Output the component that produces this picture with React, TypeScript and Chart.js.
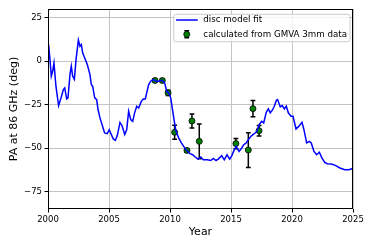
import React, { useEffect, useRef } from "react";
import { Chart, registerables } from "chart.js";

Chart.register(...registerables);

const lineYears = [
  2000.05, 2000.16, 2000.27, 2000.38, 2000.49, 2000.65, 2000.87, 2001.07, 2001.26, 2001.37,
  2001.53, 2001.64, 2001.8, 2001.91, 2002.02, 2002.16, 2002.3, 2002.49, 2002.62, 2002.73,
  2002.84, 2003.0, 2003.22, 2003.44, 2003.55, 2003.66, 2003.83, 2003.99, 2004.1, 2004.26,
  2004.43, 2004.64, 2004.86, 2005.02, 2005.19, 2005.35, 2005.52, 2005.68, 2005.9, 2006.07,
  2006.29, 2006.45, 2006.61, 2006.78, 2006.94, 2007.1, 2007.27, 2007.43, 2007.65, 2007.81,
  2007.98, 2008.09, 2008.25, 2008.42, 2008.63, 2008.85, 2009.07, 2009.34, 2009.56, 2009.73,
  2009.89, 2010.06, 2010.16, 2010.33, 2010.49, 2010.71, 2010.93, 2011.15, 2011.37, 2011.64,
  2011.86, 2012.07, 2012.3, 2012.52, 2012.73, 2013.06, 2013.34, 2013.55, 2013.77, 2013.95,
  2014.24, 2014.45, 2014.67, 2014.89, 2015.06, 2015.27, 2015.43, 2015.66, 2015.88, 2016.04,
  2016.25, 2016.42, 2016.64, 2016.8, 2016.97, 2017.13, 2017.3, 2017.52, 2017.68, 2017.89,
  2018.06, 2018.22, 2018.39, 2018.55, 2018.72, 2018.82, 2019.04, 2019.2, 2019.37, 2019.53,
  2019.7, 2019.92, 2020.08, 2020.33, 2020.55, 2020.82, 2020.98, 2021.2, 2021.42, 2021.58,
  2021.8, 2022.02, 2022.24, 2022.46, 2022.68, 2022.89, 2023.22, 2023.55, 2023.93, 2024.32,
  2024.65, 2024.98,
];

const lineValues = [
  9.6, 1, -8.6, -5.8, -1, -14.4, -25.5, -21.1, -16.3, -15.4,
  -21.7, -21.1, -7.7, -2.9, -8.6, -10.5, 1, 12.1, 8.6, 9.6,
  4.8, 2, -1.9, -7.7, -13.4, -14.4, -21.1, -22.1, -27.8, -32.6,
  -36.5, -41.3, -41.7, -39.4, -42.2, -44.7, -45.5, -42.8, -35.2, -37.1,
  -42.2, -39.4, -28.8, -33.6, -34.6, -29.7, -25.9, -26.9, -23.1, -21.7,
  -21.7, -18.2, -13.4, -11.5, -10.5, -11.5, -11.5, -10.9, -12.5, -17.3,
  -18.2, -21.1, -25.9, -33.6, -40.3, -44.1, -47, -49.3, -51.3, -53.2,
  -53.8, -55.1, -56.3, -55.1, -56.7, -56.7, -57.1, -55.9, -57.1, -56.3,
  -54.4, -56.7, -53.8, -56.3, -54.4, -50.9, -49, -51.9, -49.9, -48,
  -47, -45.1, -43.2, -42.2, -41.3, -40.3, -36.5, -34.6, -35.5, -29.4,
  -27.4, -29.7, -28.2, -25.9, -22.5, -22.1, -26.3, -25.5, -27.4, -25.9,
  -29.7, -31.7, -31.7, -39, -37.5, -35.2, -39.4, -47, -46.1, -47,
  -51.9, -53.8, -52.4, -55.7, -58.2, -59, -59.1, -59.9, -61.4, -62.4,
  -62.4, -61.7,
];

const obsYears = [2008.77, 2009.37, 2009.84, 2010.38, 2011.39, 2011.8, 2012.4, 2015.4, 2016.42, 2016.8, 2017.3];
const obsValues = [-11.1, -11.1, -18.2, -40.9, -51.3, -34.4, -46.1, -47.4, -51.1, -27.3, -40];
const obsErrors = [1, 1, 1.5, 4, 1, 4, 10, 3, 10, 4.7, 3];

const xTicks = [2000, 2005, 2010, 2015, 2020, 2025];
const yTicks = [-75, -50, -25, 0, 25];
const legendLabels = ["disc model fit", "calculated from GMVA 3mm data"];
const xTitle = "Year";
const yTitle = "PA at 86 GHz (deg)";

const FONT = "'DejaVu Sans', sans-serif";
const LINE_COLOR = "#0000ff";
const POINT_COLOR = "#008000";

export default function App() {
  const ref = useRef<HTMLCanvasElement>(null);

  useEffect(() => {
    document.body.style.margin = "0";
    const canvas = ref.current;
    if (!canvas) return;

    const errorBars = {
      id: "errorBars",
      beforeDatasetsDraw(chart: any) {
        const { ctx, scales } = chart;
        const x = scales.x;
        const y = scales.y;
        ctx.save();
        ctx.strokeStyle = "#000";
        ctx.lineWidth = 1.5;
        const cap = 2.4;
        obsYears.forEach((yr, i) => {
          const px = x.getPixelForValue(yr);
          const top = y.getPixelForValue(obsValues[i] + obsErrors[i]);
          const bot = y.getPixelForValue(obsValues[i] - obsErrors[i]);
          ctx.beginPath();
          ctx.moveTo(px, top);
          ctx.lineTo(px, bot);
          ctx.moveTo(px - cap, top);
          ctx.lineTo(px + cap, top);
          ctx.moveTo(px - cap, bot);
          ctx.lineTo(px + cap, bot);
          ctx.stroke();
        });
        ctx.restore();
      },
    };

    const frameAndLegend = {
      id: "frameAndLegend",
      afterDraw(chart: any) {
        const { ctx, chartArea } = chart;
        const { left, right, top, bottom } = chartArea;
        ctx.save();
        // frame
        ctx.strokeStyle = "#000";
        ctx.lineWidth = 1;
        ctx.strokeRect(left + 0.5, top + 0.5, right - left - 1, bottom - top - 1);

        // legend
        ctx.font = `8.7px ${FONT}`;
        const w = Math.max(...legendLabels.map((l) => ctx.measureText(l).width));
        const boxRight = right - 3;
        const boxTop = top + 5.3;
        const boxH = 27.4;
        const textOffset = 29.6;
        const boxLeft = boxRight - (w + textOffset + 3);
        const boxW = boxRight - boxLeft;
        const r = 2;
        ctx.beginPath();
        ctx.moveTo(boxLeft + r, boxTop);
        ctx.lineTo(boxLeft + boxW - r, boxTop);
        ctx.quadraticCurveTo(boxLeft + boxW, boxTop, boxLeft + boxW, boxTop + r);
        ctx.lineTo(boxLeft + boxW, boxTop + boxH - r);
        ctx.quadraticCurveTo(boxLeft + boxW, boxTop + boxH, boxLeft + boxW - r, boxTop + boxH);
        ctx.lineTo(boxLeft + r, boxTop + boxH);
        ctx.quadraticCurveTo(boxLeft, boxTop + boxH, boxLeft, boxTop + boxH - r);
        ctx.lineTo(boxLeft, boxTop + r);
        ctx.quadraticCurveTo(boxLeft, boxTop, boxLeft + r, boxTop);
        ctx.closePath();
        ctx.fillStyle = "rgba(255,255,255,0.8)";
        ctx.fill();
        ctx.strokeStyle = "#cccccc";
        ctx.lineWidth = 1;
        ctx.stroke();

        const row1 = boxTop + 5.7;
        const row2 = boxTop + 20;
        // line handle
        ctx.strokeStyle = LINE_COLOR;
        ctx.lineWidth = 1.5;
        ctx.beginPath();
        ctx.moveTo(boxLeft + 2.3, row1);
        ctx.lineTo(boxLeft + 24, row1);
        ctx.stroke();
        // errorbar handle
        const mx = boxLeft + 13;
        ctx.strokeStyle = "#000";
        ctx.beginPath();
        ctx.moveTo(mx, row2 - 3.5);
        ctx.lineTo(mx, row2 + 3.5);
        ctx.moveTo(mx - 2.4, row2 - 3.5);
        ctx.lineTo(mx + 2.4, row2 - 3.5);
        ctx.moveTo(mx - 2.4, row2 + 3.5);
        ctx.lineTo(mx + 2.4, row2 + 3.5);
        ctx.stroke();
        ctx.beginPath();
        ctx.arc(mx, row2, 3, 0, Math.PI * 2);
        ctx.fillStyle = POINT_COLOR;
        ctx.fill();
        ctx.lineWidth = 0.8;
        ctx.strokeStyle = "#000";
        ctx.stroke();

        ctx.fillStyle = "#000";
        ctx.textBaseline = "middle";
        ctx.textAlign = "left";
        ctx.fillText(legendLabels[0], boxLeft + textOffset, row1);
        ctx.fillText(legendLabels[1], boxLeft + textOffset, row2);
        ctx.restore();
      },
    };

    const chart = new Chart(canvas, {
      type: "scatter",
      data: {
        datasets: [
          {
            label: legendLabels[0],
            data: lineYears.map((x, i) => ({ x, y: lineValues[i] })),
            showLine: true,
            borderColor: LINE_COLOR,
            backgroundColor: LINE_COLOR,
            borderWidth: 1.5,
            pointRadius: 0,
            tension: 0,
            order: 0,
          } as any,
          {
            label: legendLabels[1],
            data: obsYears.map((x, i) => ({ x, y: obsValues[i] })),
            showLine: false,
            pointRadius: 3,
            pointBackgroundColor: POINT_COLOR,
            pointBorderColor: "#000",
            pointBorderWidth: 0.8,
            order: 1,
          } as any,
        ],
      },
      options: {
        responsive: false,
        animation: false,
        devicePixelRatio: 1,
        layout: { padding: { top: 9, right: 21, left: 0, bottom: 0 } },
        plugins: {
          legend: { display: false },
          tooltip: { enabled: false },
        },
        scales: {
          x: {
            type: "linear",
            position: "bottom",
            min: 2000,
            max: 2025,
            afterBuildTicks: (scale: any) => {
              scale.ticks = xTicks.map((v) => ({ value: v }));
            },
            afterFit: (scale: any) => {
              scale.height = 40;
            },
            border: { display: false },
            grid: {
              color: "#c4c4c4",
              lineWidth: 1,
              tickColor: "#000",
              tickLength: 3.5,
              drawTicks: true,
            },
            ticks: {
              color: "#000",
              font: { family: FONT, size: 8.5 },
              padding: 2,
              maxRotation: 0,
              autoSkip: false,
              callback: (v: any) => String(v),
            },
            title: {
              display: true,
              text: xTitle,
              color: "#000",
              font: { family: FONT, size: 11 },
              padding: { top: 0, bottom: 10.4 },
            },
          },
          y: {
            type: "linear",
            position: "left",
            min: -85,
            max: 30,
            afterBuildTicks: (scale: any) => {
              scale.ticks = yTicks.map((v) => ({ value: v }));
            },
            afterFit: (scale: any) => {
              scale.width = 48;
            },
            border: { display: false },
            grid: {
              color: "#c4c4c4",
              lineWidth: 1,
              tickColor: "#000",
              tickLength: 3.5,
              drawTicks: true,
            },
            ticks: {
              color: "#000",
              font: { family: FONT, size: 8.5 },
              padding: 2.5,
              autoSkip: false,
              callback: (v: any) => (v < 0 ? "\u2212" + Math.abs(v) : String(v)),
            },
            title: {
              display: true,
              text: yTitle,
              color: "#000",
              font: { family: FONT, size: 11 },
              padding: { top: 7.4, bottom: 0 },
            },
          },
        },
      },
      plugins: [errorBars, frameAndLegend],
    });

    return () => chart.destroy();
  }, []);

  return (
    <div style={{ position: "absolute", left: 0, top: 0, width: 374, height: 249, background: "#fff" }}>
      <canvas ref={ref} width={374} height={249} style={{ width: 374, height: 249, display: "block" }} />
    </div>
  );
}
